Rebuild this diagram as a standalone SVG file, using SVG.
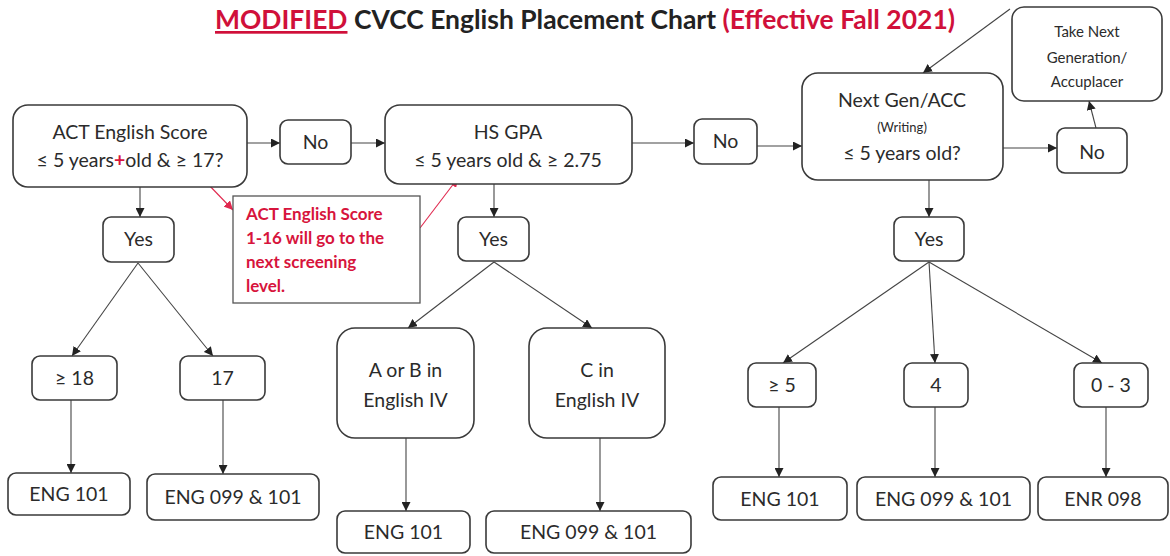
<svg xmlns="http://www.w3.org/2000/svg" width="1170" height="556" viewBox="0 0 1170 556">
<style>
.b{fill:#fff;stroke:#3a3a3a;stroke-width:1.6}
.t{font-family:Lato,"Open Sans",sans-serif;font-size:19.5px;fill:#2b2b2b;text-anchor:middle}
.s{font-size:13px}
.m{font-size:15px}
.r{font-family:Lato,"Open Sans",sans-serif;font-size:17px;font-weight:bold;fill:#d7143c}
.c{fill:none;stroke:#444;stroke-width:1.1}
.cr{fill:none;stroke:#e0284e;stroke-width:1.1}
</style>
<defs>
<marker id="a" viewBox="0 0 10 10" refX="10" refY="5" markerWidth="9" markerHeight="9" markerUnits="userSpaceOnUse" orient="auto"><path d="M0,0L10,5L0,10z" fill="#222"/></marker>
<marker id="ar" viewBox="0 0 10 10" refX="10" refY="5" markerWidth="9" markerHeight="9" markerUnits="userSpaceOnUse" orient="auto"><path d="M0,0L10,5L0,10z" fill="#e0284e"/></marker>
</defs>
<rect width="1170" height="556" fill="#fff"/>
<text id="title" x="215" y="29" textLength="740" lengthAdjust="spacingAndGlyphs" style="font-family:Lato,'Open Sans',sans-serif;font-size:27px;font-weight:bold;fill:#222"><tspan fill="#d0103a" text-decoration="underline">MODIFIED</tspan> CVCC English Placement Chart <tspan fill="#d0103a">(Effective Fall 2021)</tspan></text>

<g id="connectors">
<line class="c" x1="247" y1="143" x2="280" y2="143" marker-end="url(#a)"/>
<line class="c" x1="351" y1="143" x2="385" y2="143" marker-end="url(#a)"/>
<line class="c" x1="632" y1="143" x2="694" y2="143" marker-end="url(#a)"/>
<line class="c" x1="757" y1="146" x2="802" y2="146" marker-end="url(#a)"/>
<line class="c" x1="1003" y1="148" x2="1057" y2="148" marker-end="url(#a)"/>
<line class="c" x1="1096" y1="128" x2="1089" y2="101" marker-end="url(#a)"/>
<line class="c" x1="1010" y1="9" x2="923" y2="73" marker-end="url(#a)"/>
<line class="c" x1="140" y1="187" x2="140" y2="217" marker-end="url(#a)"/>
<line class="c" x1="494" y1="184" x2="494" y2="217" marker-end="url(#a)"/>
<line class="c" x1="929" y1="180" x2="929" y2="217" marker-end="url(#a)"/>
<line class="c" x1="138" y1="263" x2="72" y2="356" marker-end="url(#a)"/>
<line class="c" x1="138" y1="263" x2="213" y2="356" marker-end="url(#a)"/>
<line class="c" x1="494" y1="262" x2="408" y2="328" marker-end="url(#a)"/>
<line class="c" x1="494" y1="262" x2="592" y2="328" marker-end="url(#a)"/>
<line class="c" x1="929" y1="262" x2="783" y2="363" marker-end="url(#a)"/>
<line class="c" x1="929" y1="262" x2="935" y2="363" marker-end="url(#a)"/>
<line class="c" x1="929" y1="262" x2="1102" y2="363" marker-end="url(#a)"/>
<line class="c" x1="71" y1="400" x2="71" y2="473" marker-end="url(#a)"/>
<line class="c" x1="223" y1="400" x2="223" y2="474" marker-end="url(#a)"/>
<line class="c" x1="406" y1="438" x2="406" y2="511" marker-end="url(#a)"/>
<line class="c" x1="600" y1="438" x2="600" y2="511" marker-end="url(#a)"/>
<line class="c" x1="779" y1="407" x2="779" y2="477" marker-end="url(#a)"/>
<line class="c" x1="935" y1="407" x2="935" y2="477" marker-end="url(#a)"/>
<line class="c" x1="1106" y1="407" x2="1106" y2="477" marker-end="url(#a)"/>
<line class="cr" x1="206" y1="182" x2="233" y2="210" marker-end="url(#ar)"/>
<line class="cr" x1="420" y1="228" x2="458" y2="178" marker-end="url(#ar)"/>
</g>

<g id="act"><rect class="b" x="13" y="105" width="234" height="82" rx="15"/>
<text class="t" x="130" y="139">ACT English Score</text>
<text class="t" x="130" y="167">≤ 5 years<tspan fill="#d7143c" font-weight="bold">+</tspan>old &amp; ≥ 17?</text></g>
<g id="no1"><rect class="b" x="280" y="120" width="71" height="44" rx="8"/><text class="t" x="315.5" y="149">No</text></g>
<g id="hsgpa"><rect class="b" x="385" y="105" width="247" height="79" rx="15"/>
<text class="t" x="508" y="139">HS GPA</text>
<text class="t" x="508" y="167">≤ 5 years old &amp; ≥ 2.75</text></g>
<g id="no2"><rect class="b" x="694" y="119" width="63" height="45" rx="8"/><text class="t" x="725.5" y="148">No</text></g>
<g id="nextgen"><rect class="b" x="802" y="73" width="201" height="107" rx="16"/>
<text class="t" x="902" y="107">Next Gen/ACC</text>
<text class="t s" x="902" y="132">(Writing)</text>
<text class="t" x="902" y="160">≤ 5 years old?</text></g>
<g id="no3"><rect class="b" x="1057" y="128" width="70" height="45" rx="8"/><text class="t" x="1092" y="159">No</text></g>
<g id="takenext"><rect class="b" x="1012" y="7" width="150" height="94" rx="12"/>
<text class="t m" x="1087" y="37">Take Next</text>
<text class="t m" x="1087" y="63">Generation/</text>
<text class="t m" x="1087" y="87">Accuplacer</text></g>
<g id="note"><rect fill="#fff" stroke="#555" stroke-width="1.3" x="233" y="196" width="187" height="107"/>
<text class="r" x="246" y="220">ACT English Score</text>
<text class="r" x="246" y="244">1-16 will go to the</text>
<text class="r" x="246" y="268">next screening</text>
<text class="r" x="246" y="292">level.</text></g>
<g id="yes1"><rect class="b" x="103" y="217" width="71" height="45" rx="8"/><text class="t" x="138.5" y="246">Yes</text></g>
<g id="yes2"><rect class="b" x="458" y="217" width="71" height="44" rx="8"/><text class="t" x="493.5" y="246">Yes</text></g>
<g id="yes3"><rect class="b" x="894" y="217" width="70" height="44" rx="8"/><text class="t" x="929" y="246">Yes</text></g>
<g id="ge18"><rect class="b" x="32" y="356" width="85" height="44" rx="8"/><text class="t" x="74.5" y="385">≥ 18</text></g>
<g id="s17"><rect class="b" x="180" y="356" width="85" height="44" rx="8"/><text class="t" x="222.5" y="385">17</text></g>
<g id="aorb"><rect class="b" x="337" y="328" width="137" height="110" rx="18"/>
<text class="t" x="405.5" y="377">A or B in</text><text class="t" x="405.5" y="407">English IV</text></g>
<g id="cin"><rect class="b" x="529" y="328" width="136" height="110" rx="18"/>
<text class="t" x="597" y="377">C in</text><text class="t" x="597" y="407">English IV</text></g>
<g id="ge5"><rect class="b" x="748" y="363" width="68" height="44" rx="8"/><text class="t" x="782" y="392">≥ 5</text></g>
<g id="s4"><rect class="b" x="904" y="363" width="64" height="44" rx="8"/><text class="t" x="936" y="392">4</text></g>
<g id="s03"><rect class="b" x="1074" y="363" width="74" height="44" rx="8"/><text class="t" x="1111" y="392">0 - 3</text></g>
<g id="eng101a"><rect class="b" x="8" y="473" width="122" height="42" rx="8"/><text class="t" x="69" y="501">ENG 101</text></g>
<g id="eng099a"><rect class="b" x="147" y="474" width="172" height="46" rx="8"/><text class="t" x="233" y="504">ENG 099 &amp; 101</text></g>
<g id="eng101b"><rect class="b" x="337" y="511" width="133" height="42" rx="8"/><text class="t" x="403.5" y="539">ENG 101</text></g>
<g id="eng099b"><rect class="b" x="486" y="511" width="205" height="42" rx="8"/><text class="t" x="588.5" y="539">ENG 099 &amp; 101</text></g>
<g id="eng101c"><rect class="b" x="713" y="477" width="134" height="43" rx="8"/><text class="t" x="780" y="506">ENG 101</text></g>
<g id="eng099c"><rect class="b" x="857" y="477" width="173" height="43" rx="8"/><text class="t" x="943.5" y="506">ENG 099 &amp; 101</text></g>
<g id="enr098"><rect class="b" x="1038" y="477" width="130" height="43" rx="8"/><text class="t" x="1103" y="506">ENR 098</text></g>
</svg>
